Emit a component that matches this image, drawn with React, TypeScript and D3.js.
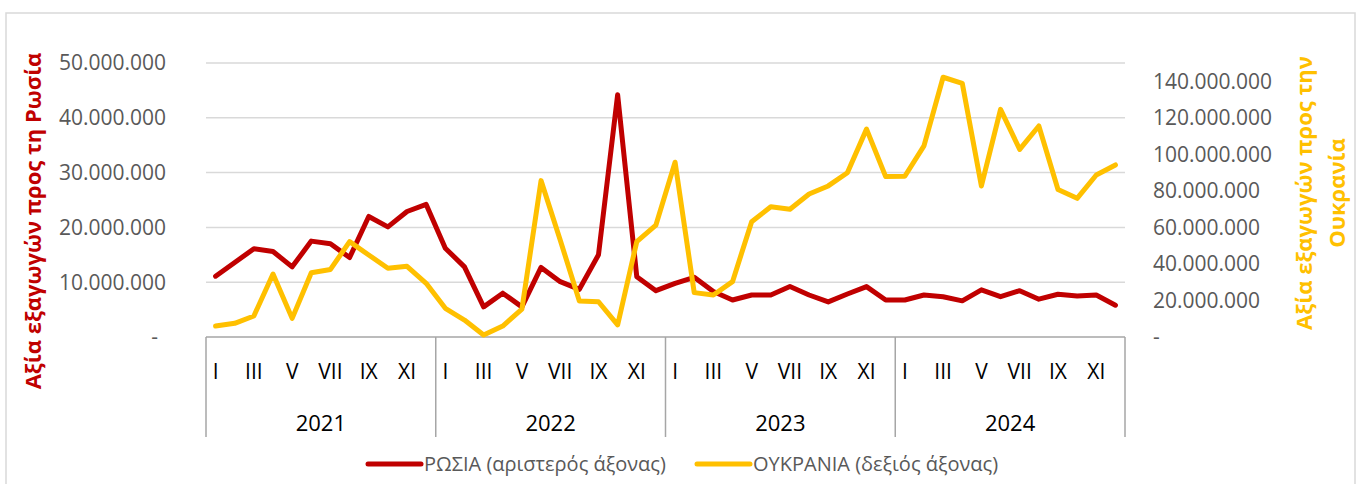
import React from 'react';
import * as d3 from 'd3';

// values in millions of euro
const years = ['2021', '2022', '2023', '2024'];
const monthLabels = ['I', '', 'III', '', 'V', '', 'VII', '', 'IX', '', 'XI', ''];

const russia = [
  11.1, 13.6, 16.1, 15.6, 12.8, 17.5, 17.0, 14.5, 22.0, 20.1, 22.9, 24.2,
  16.2, 12.8, 5.5, 8.0, 5.5, 12.7, 10.1, 8.7, 15.0, 44.2, 11.0, 8.45,
  9.8, 10.9, 8.3, 6.75, 7.66, 7.66, 9.2, 7.66, 6.4, 7.85, 9.2, 6.75,
  6.75, 7.66, 7.35, 6.6, 8.6, 7.35, 8.45, 6.9, 7.8, 7.5, 7.66, 5.8,
];
const ukraine = [
  6.0, 7.5, 11.5, 34.5, 10.2, 35.2, 37.0, 52.2, 44.9, 37.6, 38.7, 29.4,
  15.7, 9.3, 1.1, 6.0, 15.2, 85.6, 53.1, 19.7, 19.3, 6.6, 52.2, 61.3,
  95.7, 24.3, 23.0, 30.3, 63.1, 71.3, 69.9, 78.3, 82.7, 89.9, 113.8, 87.8,
  88.0, 104.6, 142.2, 138.9, 82.7, 124.6, 102.7, 115.5, 80.8, 75.9, 88.7, 94.2,
];
const leftTicks = [0, 10e6, 20e6, 30e6, 40e6, 50e6];
const rightTicks = [0, 20e6, 40e6, 60e6, 80e6, 100e6, 120e6, 140e6];

const RED = '#c00000';
const YELLOW = '#ffc000';
const FONT = '"Open Sans", "Noto Sans", sans-serif';

const locale = d3.formatLocale({ decimal: ',', thousands: '.', grouping: [3], currency: ['', ''] });
const fmt = (v: number) => (v === 0 ? '-' : locale.format(',')(v));

export default function App() {
  const width = 1359;
  const height = 484;
  const top = 63;
  const bottom = 337;
  const left = 206;
  const right = 1125;

  const idx = d3.range(russia.length);
  const x = d3.scaleBand<number>().domain(idx).range([left, right]);
  const cx = (i: number) => (x(i) as number) + x.bandwidth() / 2;
  const yL = d3.scaleLinear().domain([0, 50e6]).range([bottom, top]);
  const yR = d3.scaleLinear().domain([0, 150e6]).range([bottom, top]);

  const lineL = d3.line<number>().x((_, i) => cx(i)).y((d) => yL(d * 1e6));
  const lineR = d3.line<number>().x((_, i) => cx(i)).y((d) => yR(d * 1e6));

  const yearW = (right - left) / years.length;

  return (
    <div style={{ position: 'absolute', left: 0, top: 0 }}>
      <svg width={width} height={height} style={{ display: 'block', background: '#fff' }} fontFamily={FONT}>
        <rect x={6} y={13} width={1349} height={500} fill="none" stroke="#d9d9d9" strokeWidth={1.5} />

        {leftTicks.filter((t) => t > 0).map((t) => (
          <line key={t} x1={left} x2={right} y1={yL(t)} y2={yL(t)} stroke="#d9d9d9" strokeWidth={1.5} />
        ))}

        {leftTicks.map((t) => (
          <text key={'l' + t} x={t === 0 ? 158 : 166} y={yL(t)} dy="0.35em" textAnchor="end" fontSize={21} fill="#595959">
            {fmt(t)}
          </text>
        ))}
        {rightTicks.map((t) => (
          <text key={'r' + t} x={1153} y={yR(t)} dy="0.35em" textAnchor="start" fontSize={21} fill="#595959">
            {fmt(t)}
          </text>
        ))}

        <text transform="translate(41,221) rotate(-90)" textAnchor="middle" fontSize={22} fontWeight="bold" fill={RED}>
          Αξία εξαγωγών προς τη Ρωσία
        </text>
        <text transform="translate(1312,193) rotate(-90)" textAnchor="middle" fontSize={22} fontWeight="bold" fill={YELLOW}>
          <tspan x={0} dy={0}>Αξία εξαγωγών προς την</tspan>
          <tspan x={0} dy={33}>Ουκρανία</tspan>
        </text>

        {/* category axis */}
        <line x1={left} x2={right} y1={bottom} y2={bottom} stroke="#a6a6a6" strokeWidth={1.5} />
        {d3.range(years.length + 1).map((k) => (
          <line key={'v' + k} x1={left + k * yearW} x2={left + k * yearW} y1={bottom} y2={437} stroke="#a6a6a6" strokeWidth={1.5} />
        ))}
        {idx.map((i) =>
          monthLabels[i % 12] ? (
            <text key={'m' + i} x={cx(i)} y={372} dy="0.35em" textAnchor="middle" fontSize={21} fill="#000">
              {monthLabels[i % 12]}
            </text>
          ) : null
        )}
        {years.map((yy, k) => (
          <text key={yy} x={left + (k + 0.5) * yearW} y={423} dy="0.35em" textAnchor="middle" fontSize={22} fill="#000">
            {yy}
          </text>
        ))}

        <path d={lineL(russia) as string} fill="none" stroke={RED} strokeWidth={5} strokeLinejoin="round" strokeLinecap="round" />
        <path d={lineR(ukraine) as string} fill="none" stroke={YELLOW} strokeWidth={5} strokeLinejoin="round" strokeLinecap="round" />

        {/* legend */}
        <line x1={368} x2={421} y1={464} y2={464} stroke={RED} strokeWidth={5} strokeLinecap="round" />
        <text x={424} y={464} dy="0.35em" fontSize={20} fill="#595959">ΡΩΣΙΑ (αριστερός άξονας)</text>
        <line x1={697} x2={750} y1={464} y2={464} stroke={YELLOW} strokeWidth={5} strokeLinecap="round" />
        <text x={753} y={464} dy="0.35em" fontSize={20} fill="#595959">ΟΥΚΡΑΝΙΑ (δεξιός άξονας)</text>
      </svg>
    </div>
  );
}
